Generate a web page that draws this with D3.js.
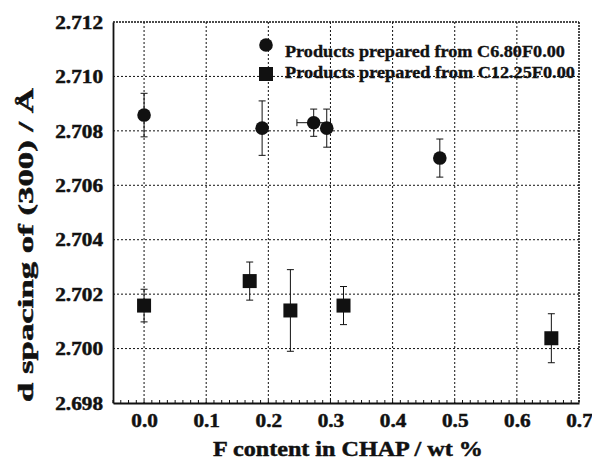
<!DOCTYPE html>
<html>
<head>
<meta charset="utf-8">
<script src="https://cdn.jsdelivr.net/npm/d3@7"></script>
<style>
  body { margin: 0; background: #fff; }
  svg text { font-family: "Liberation Serif", "Times New Roman", serif; font-weight: bold; fill: #111; }
</style>
</head>
<body>
<div id="chart"></div>
<script>
// series 1: products prepared from C6.80F0.00 (circles)
const circleX    = [0.000, 0.190, 0.273, 0.294, 0.476];
const circleY    = [2.70858, 2.70810, 2.70830, 2.70810, 2.70700];
const circleYErr = [0.0008, 0.0010, 0.0005, 0.0007, 0.0007];
const circleXErr = [0, 0, 0.027, 0, 0];

// series 2: products prepared from C12.25F0.00 (squares)
const squareX    = [0.000, 0.170, 0.2355, 0.321, 0.6555];
const squareY    = [2.70158, 2.70248, 2.70140, 2.70158, 2.70038];
const squareYErr = [0.0006, 0.0007, 0.0015, 0.0007, 0.0009];

const xTicks = [0.0, 0.1, 0.2, 0.3, 0.4, 0.5, 0.6, 0.7];
const yTicks = [2.698, 2.700, 2.702, 2.704, 2.706, 2.708, 2.710, 2.712];
const legendLabels = ["Products prepared from C6.80F0.00", "Products prepared from C12.25F0.00"];

const W = 592, H = 460;
const margin = {left: 113, right: 13, top: 22, bottom: 57};
const width = W - margin.left - margin.right,
    height = H - margin.top - margin.bottom;

const svg = d3.select("#chart").append("svg")
    .attr("width", W)
    .attr("height", H);
const g = svg.append("g")
    .attr("transform", `translate(${margin.left},${margin.top})`);

const x = d3.scaleLinear().domain([-0.05, 0.7]).range([0, width]);
const y = d3.scaleLinear().domain([2.698, 2.712]).range([height, 0]);

// the original font is a wide, heavy Times; stretch text horizontally to a target width
function stretch(node, target) {
    return target / node.getComputedTextLength();
}

/** grid */
const grid = g.append("g").attr("class", "grid");
grid.selectAll(".gx")
    .data(xTicks.filter(d => d > -1e-9 && d < 0.7 - 1e-9))
    .join("line")
    .attr("x1", d => x(d)).attr("x2", d => x(d))
    .attr("y1", 0).attr("y2", height)
    .attr("stroke", "#111").attr("stroke-width", 1)
    .attr("stroke-dasharray", "2,2");
grid.selectAll(".gy")
    .data(yTicks.filter(d => d > 2.698 + 1e-9 && d < 2.712 - 1e-9))
    .join("line")
    .attr("x1", 0).attr("x2", width)
    .attr("y1", d => y(d)).attr("y2", d => y(d))
    .attr("stroke", "#111").attr("stroke-width", 1)
    .attr("stroke-dasharray", "2,2");

// top and right frame (dotted)
g.append("line").attr("x1", 0).attr("x2", width).attr("y1", 0).attr("y2", 0)
    .attr("stroke", "#111").attr("stroke-width", 1.5).attr("stroke-dasharray", "2,1");
g.append("line").attr("x1", width).attr("x2", width).attr("y1", 0).attr("y2", height)
    .attr("stroke", "#111").attr("stroke-width", 1.5).attr("stroke-dasharray", "2,1");

/** axes */
const tickScale = 1.09;
const minorTicks = d3.range(-0.05, 0.7 + 1e-9, 0.0125);
const axisX = d3.axisBottom(x)
    .tickValues(xTicks)
    .tickSize(0)
    .tickPadding(10)
    .tickFormat(d3.format(".1f"));
const gx = g.append("g")
    .attr("transform", `translate(0,${height})`)
    .call(axisX);
gx.select(".domain").attr("stroke", "#111").attr("stroke-width", 1.8);
gx.selectAll("text")
    .attr("font-size", 19.5)
    .attr("font-weight", "bold")
    .attr("fill", "#111")
    .attr("stroke", "#111").attr("stroke-width", 0.5)
    .attr("transform", `scale(${tickScale},1)`);
gx.selectAll(".minor")
    .data(minorTicks)
    .join("line")
    .attr("class", "minor")
    .attr("x1", d => x(d)).attr("x2", d => x(d))
    .attr("y1", 0).attr("y2", -3)
    .attr("stroke", "#111").attr("stroke-width", 1);

const axisY = d3.axisLeft(y)
    .tickValues(yTicks)
    .tickSize(0)
    .tickPadding(10)
    .tickFormat(d3.format(".3f"));
const gy = g.append("g").call(axisY);
gy.select(".domain").attr("stroke", "#111").attr("stroke-width", 1.8);
gy.selectAll("text")
    .attr("font-size", 19.5)
    .attr("font-weight", "bold")
    .attr("fill", "#111")
    .attr("stroke", "#111").attr("stroke-width", 0.5)
    .attr("x", 0)
    .attr("transform", `translate(-10,0) scale(${tickScale},1)`);

/** axis labels */
const xLabel = svg.append("text")
    .attr("text-anchor", "middle")
    .attr("font-size", 22)
    .attr("stroke", "#111").attr("stroke-width", 0.5)
    .text("F content in CHAP / wt %");
xLabel.attr("transform", `translate(348,456) scale(${stretch(xLabel.node(), 270)},1)`);

const yLabel = svg.append("text")
    .attr("text-anchor", "middle")
    .attr("font-size", 21)
    .attr("stroke", "#111").attr("stroke-width", 0.5)
    .text("d spacing of (300) / Å");
yLabel.attr("transform", `translate(33,245) rotate(-90) scale(${stretch(yLabel.node(), 314)},1)`);

/** error bars */
const capW = 3.5;
const content = g.append("g").attr("class", "content");
function errorBars(xs, ys, errs, xerrs) {
    const eb = content.append("g").attr("stroke", "#111").attr("stroke-width", 1);
    xs.forEach((xv, i) => {
        const cx = x(xv), y0 = y(ys[i] - errs[i]), y1 = y(ys[i] + errs[i]);
        eb.append("line").attr("x1", cx).attr("x2", cx).attr("y1", y0).attr("y2", y1);
        eb.append("line").attr("x1", cx - capW).attr("x2", cx + capW).attr("y1", y0).attr("y2", y0);
        eb.append("line").attr("x1", cx - capW).attr("x2", cx + capW).attr("y1", y1).attr("y2", y1);
        if (xerrs && xerrs[i]) {
            const cy = y(ys[i]), x0 = x(xv - xerrs[i]), x1 = x(xv + xerrs[i]);
            eb.append("line").attr("x1", x0).attr("x2", x1).attr("y1", cy).attr("y2", cy);
            eb.append("line").attr("x1", x0).attr("x2", x0).attr("y1", cy - capW).attr("y2", cy + capW);
            eb.append("line").attr("x1", x1).attr("x2", x1).attr("y1", cy - capW).attr("y2", cy + capW);
        }
    });
}
errorBars(circleX, circleY, circleYErr, circleXErr);
errorBars(squareX, squareY, squareYErr, null);

/** markers */
content.append("g").selectAll("circle")
    .data(circleX.map((d, i) => [d, circleY[i]]))
    .join("circle")
    .attr("cx", d => x(d[0]))
    .attr("cy", d => y(d[1]))
    .attr("r", 6.8)
    .attr("fill", "#111");
const sq = 14;
content.append("g").selectAll("rect")
    .data(squareX.map((d, i) => [d, squareY[i]]))
    .join("rect")
    .attr("x", d => x(d[0]) - sq / 2)
    .attr("y", d => y(d[1]) - sq / 2)
    .attr("width", sq)
    .attr("height", sq)
    .attr("fill", "#111");

/** legend */
const legend = svg.append("g");
legend.append("circle").attr("cx", 266).attr("cy", 45).attr("r", 6.8).attr("fill", "#111");
legend.append("rect").attr("x", 259).attr("y", 67).attr("width", 14).attr("height", 14).attr("fill", "#111");
legend.selectAll("text.lg")
    .data(legendLabels)
    .join("text")
    .attr("class", "lg")
    .attr("font-size", 17)
    .attr("stroke", "#111").attr("stroke-width", 0.35)
    .text(d => d)
    .each(function (d, i) {
        const s = stretch(this, i === 0 ? 280 : 290);
        d3.select(this).attr("transform", `translate(285,${56.5 + i * 21}) scale(${s},1)`);
    });
</script>
</body>
</html>
